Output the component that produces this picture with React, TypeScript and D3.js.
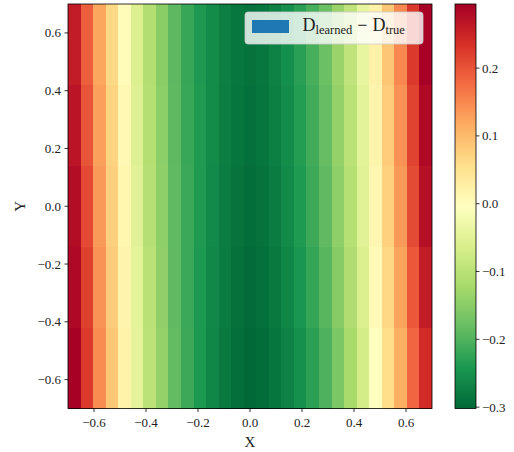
import React from "react";
import * as d3 from "d3";

// Grid extent and column count of the difference field
const X_DOMAIN: [number, number] = [-0.7, 0.7];
const Y_DOMAIN: [number, number] = [-0.7, 0.7];
const N_COLS = 29;

// Horizontal bands (top to bottom) with the field values per column
const rowEdges = [0.7, 0.42, 0.14, -0.14, -0.42, -0.7];

const rowA = [
  0.26, 0.19, 0.122, 0.064, 0.004, -0.059, -0.109, -0.149, -0.19, -0.219,
  -0.24, -0.258, -0.273, -0.283, -0.289, -0.283, -0.271, -0.253, -0.231, -0.207,
  -0.177, -0.135, -0.093, -0.04, 0.024, 0.087, 0.15, 0.226, 0.292,
];
const rowB = [
  0.27, 0.2, 0.128, 0.07, 0.009, -0.055, -0.106, -0.147, -0.189, -0.218,
  -0.239, -0.259, -0.275, -0.285, -0.292, -0.285, -0.274, -0.257, -0.235, -0.212,
  -0.182, -0.14, -0.1, -0.047, 0.018, 0.08, 0.141, 0.216, 0.283,
];
const rowC = [
  0.278, 0.21, 0.134, 0.075, 0.013, -0.052, -0.104, -0.145, -0.188, -0.217,
  -0.239, -0.26, -0.276, -0.287, -0.295, -0.288, -0.277, -0.26, -0.239, -0.216,
  -0.187, -0.145, -0.105, -0.052, 0.012, 0.074, 0.134, 0.208, 0.275,
];
const rowD = [
  0.284, 0.218, 0.14, 0.08, 0.017, -0.049, -0.101, -0.143, -0.187, -0.217,
  -0.24, -0.262, -0.278, -0.29, -0.298, -0.292, -0.281, -0.265, -0.245, -0.222,
  -0.194, -0.153, -0.111, -0.059, 0.005, 0.066, 0.125, 0.196, 0.26,
];
const rowE = [
  0.292, 0.226, 0.146, 0.085, 0.021, -0.045, -0.098, -0.14, -0.185, -0.216,
  -0.241, -0.264, -0.281, -0.293, -0.301, -0.296, -0.286, -0.271, -0.251, -0.229,
  -0.202, -0.162, -0.12, -0.068, -0.004, 0.056, 0.114, 0.182, 0.242,
];
const rows = [rowA, rowB, rowC, rowD, rowE];

// Colour scale limits and tick values
const V_MIN = -0.302;
const V_MAX = 0.2945;
const xTicks = [-0.6, -0.4, -0.2, 0.0, 0.2, 0.4, 0.6];
const yTicks = [-0.6, -0.4, -0.2, 0.0, 0.2, 0.4, 0.6];
const cbarTicks = [-0.3, -0.2, -0.1, 0.0, 0.1, 0.2];

// RdYlGn reversed (green = low, red = high)
const cmapColors = [
  "#006837", "#1a9850", "#66bd63", "#a6d96a", "#d9ef8b", "#ffffbf",
  "#fee08b", "#fdae61", "#f46d43", "#d73027", "#a50026",
];

const FONT = "'Liberation Serif', 'DejaVu Serif', serif";

export default function App() {
  const W = 514;
  const H = 452;
  const plot = { left: 68, right: 432, top: 4, bottom: 408.5 };
  const cbar = { left: 455, right: 476, top: 4, bottom: 408.5 };

  const x = d3.scaleLinear().domain(X_DOMAIN).range([plot.left, plot.right]);
  const y = d3.scaleLinear().domain(Y_DOMAIN).range([plot.bottom, plot.top]);
  const cy = d3.scaleLinear().domain([V_MIN, V_MAX]).range([cbar.bottom, cbar.top]);

  const stops = d3.range(cmapColors.length).map(
    (i) => V_MIN + (i * (V_MAX - V_MIN)) / (cmapColors.length - 1)
  );
  const color = d3
    .scaleLinear<string>()
    .domain(stops)
    .range(cmapColors)
    .interpolate(d3.interpolateRgb)
    .clamp(true);

  const step = (X_DOMAIN[1] - X_DOMAIN[0]) / N_COLS;
  const fmt = d3.format(".1f");

  const cells: React.ReactNode[] = [];
  rows.forEach((vals, r) => {
    const yTop = y(rowEdges[r]);
    const yBot = y(rowEdges[r + 1]);
    vals.forEach((v, c) => {
      const x0 = x(X_DOMAIN[0] + c * step);
      const x1 = x(X_DOMAIN[0] + (c + 1) * step);
      cells.push(
        <rect
          key={`${r}-${c}`}
          x={x0}
          y={yTop}
          width={x1 - x0 + 0.4}
          height={yBot - yTop + 0.4}
          fill={color(v)}
        />
      );
    });
  });

  return (
    <svg width={W} height={H} style={{ display: "block", position: "absolute", left: 0, top: 0 }}>
      <defs>
        <linearGradient id="cbarGrad" x1="0" y1="1" x2="0" y2="0">
          {stops.map((s, i) => (
            <stop key={i} offset={(s - V_MIN) / (V_MAX - V_MIN)} stopColor={cmapColors[i]} />
          ))}
        </linearGradient>
      </defs>
      <rect width={W} height={H} fill="#ffffff" />

      {/* heat map cells */}
      <g shapeRendering="crispEdges">{cells}</g>

      {/* axes frame */}
      <rect
        x={plot.left}
        y={plot.top}
        width={plot.right - plot.left}
        height={plot.bottom - plot.top}
        fill="none"
        stroke="#000"
        strokeWidth={0.8}
      />

      {/* x axis */}
      {xTicks.map((t) => (
        <g key={`xt${t}`}>
          <line x1={x(t)} x2={x(t)} y1={plot.bottom} y2={plot.bottom + 3.5} stroke="#000" strokeWidth={0.8} />
          <text x={x(t)} y={plot.bottom + 18} textAnchor="middle" fontFamily={FONT} fontSize={13} fill="#222">
            {fmt(t)}
          </text>
        </g>
      ))}
      <text x={(plot.left + plot.right) / 2} y={447} textAnchor="middle" fontFamily={FONT} fontSize={15} fill="#222">
        X
      </text>

      {/* y axis */}
      {yTicks.map((t) => (
        <g key={`yt${t}`}>
          <line x1={plot.left - 3.5} x2={plot.left} y1={y(t)} y2={y(t)} stroke="#000" strokeWidth={0.8} />
          <text x={plot.left - 7} y={y(t) + 4.5} textAnchor="end" fontFamily={FONT} fontSize={13} fill="#222">
            {fmt(t)}
          </text>
        </g>
      ))}
      <text
        transform={`translate(25, ${(plot.top + plot.bottom) / 2}) rotate(-90)`}
        textAnchor="middle"
        fontFamily={FONT}
        fontSize={15}
        fill="#222"
      >
        Y
      </text>

      {/* legend */}
      <g>
        <rect x={245} y={12} width={178} height={32} rx={3} fill="#ffffff" fillOpacity={0.8} stroke="#cccccc" strokeOpacity={0.8} />
        <rect x={252} y={20} width={37} height={13} fill="#1f77b4" />
        <text x={302.5} y={31} fontFamily={FONT} fontSize={18} fill="#222">
          <tspan>D</tspan>
          <tspan fontSize={12.5} dy={3}>learned</tspan>
          <tspan dy={-3} dx={5}>−</tspan>
          <tspan dx={5}>D</tspan>
          <tspan fontSize={12.5} dy={3}>true</tspan>
        </text>
      </g>

      {/* colour bar */}
      <rect
        x={cbar.left}
        y={cbar.top}
        width={cbar.right - cbar.left}
        height={cbar.bottom - cbar.top}
        fill="url(#cbarGrad)"
        stroke="#000"
        strokeWidth={0.8}
      />
      {cbarTicks.map((t) => (
        <g key={`ct${t}`}>
          <line x1={cbar.right} x2={cbar.right + 3.5} y1={cy(t)} y2={cy(t)} stroke="#000" strokeWidth={0.8} />
          <text x={cbar.right + 6} y={cy(t) + 4.5} fontFamily={FONT} fontSize={13} fill="#222">
            {fmt(t)}
          </text>
        </g>
      ))}
    </svg>
  );
}
